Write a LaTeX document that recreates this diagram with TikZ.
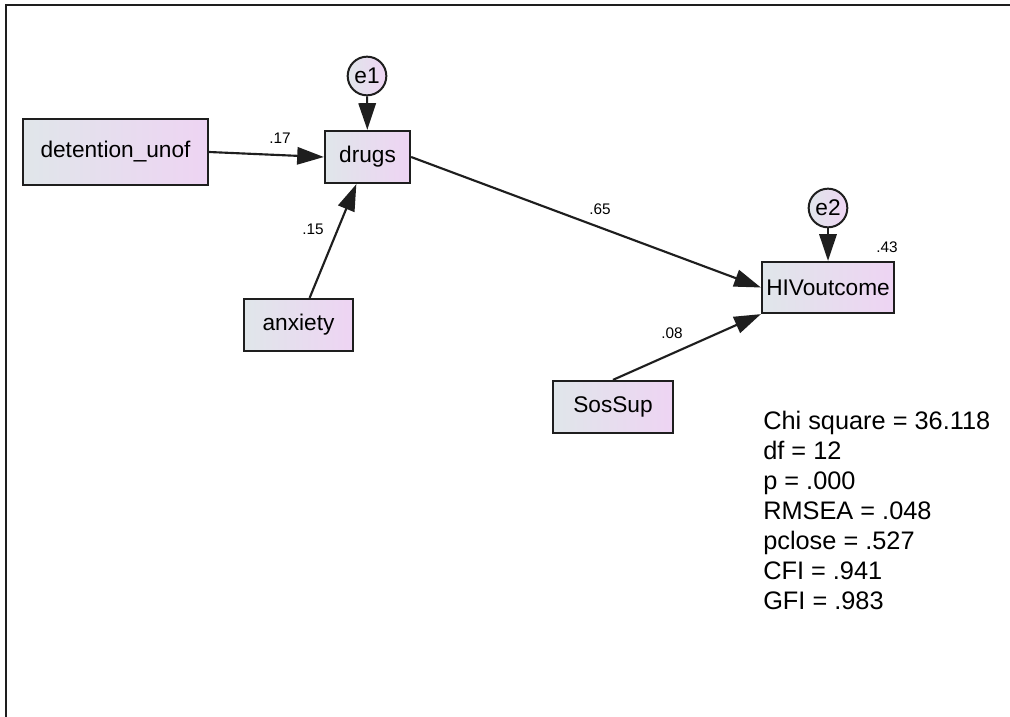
\documentclass[tikz,border=0pt]{standalone}
\usepackage{fontspec}
\setmainfont{Liberation Sans}
\usepackage{tikz}
\usetikzlibrary{arrows.meta}
\definecolor{edge}{RGB}{30,30,30}
\definecolor{boxl}{RGB}{224,230,234}
\definecolor{boxr}{RGB}{238,212,243}
\tikzset{
  var/.style={draw=edge,line width=1.7pt,left color=boxl,right color=boxr,
    inner sep=0pt,font=\fontsize{17}{20}\selectfont,text=black},
  err/.style={circle,draw=edge,line width=1.5pt,left color=boxl,right color=boxr,
    inner sep=0pt,minimum size=29pt,font=\fontsize{17}{20}\selectfont},
  path/.style={-{Triangle[length=20pt,width=13pt]},line width=1.6pt,edge},
  coef/.style={font=\fontsize{11.5}{13}\selectfont,inner sep=0pt},
  fitstat/.style={font=\fontsize{19}{22}\selectfont,inner sep=0pt,anchor=base west},
}

\begin{document}
\begin{tikzpicture}[x=0.75pt,y=-0.75pt]
  \useasboundingbox (0,0) rectangle (1010,717);
  \draw[line width=1.5pt,edge] (1010,5) -- (6,5) -- (6,717);
  % observed variables
  \node[var,minimum width=138.75pt,minimum height=49.5pt] (det) at (115.5,152) {detention\_unof};
  \node[var,minimum width=63.75pt,minimum height=39pt] (drugs) at (367.5,157) {drugs};
  \node[var,minimum width=81.75pt,minimum height=39pt] (anx) at (298.5,325) {anxiety};
  \node[var,minimum width=99pt,minimum height=38.25pt] (hiv) at (828,287.5) {HIVoutcome};
  \node[var,minimum width=90pt,minimum height=39pt] (sos) at (613,407) {SosSup};
  % error terms
  \node[err] (e1) at (367,76) {e1};
  \node[err] (e2) at (828,208) {e2};
  % paths
  \draw[path] (det.east) -- (drugs.west);
  \draw[path] (anx) -- (drugs);
  \draw[path] (drugs.east) -- (hiv.west);
  \draw[path] (sos.north) -- (hiv.south west);
  \draw[path] (e1) -- (drugs);
  \draw[path] (e2) -- (hiv);
  % estimates
  \node[coef] (c17) at (280,138) {.17};
  \node[coef] (c15) at (313,229) {.15};
  \node[coef] (c65) at (600,209) {.65};
  \node[coef] (c08) at (672,333) {.08};
  \node[coef] (r43) at (887,247) {.43};
  % fit indices
  \foreach \txt [count=\i] in {Chi square = 36.118,df = 12,p = .000,RMSEA = .048,pclose = .527,CFI = .941,GFI = .983}
    \node[fitstat] (fit\i) at (763,399+30*\i) {\txt};
\end{tikzpicture}
\end{document}
